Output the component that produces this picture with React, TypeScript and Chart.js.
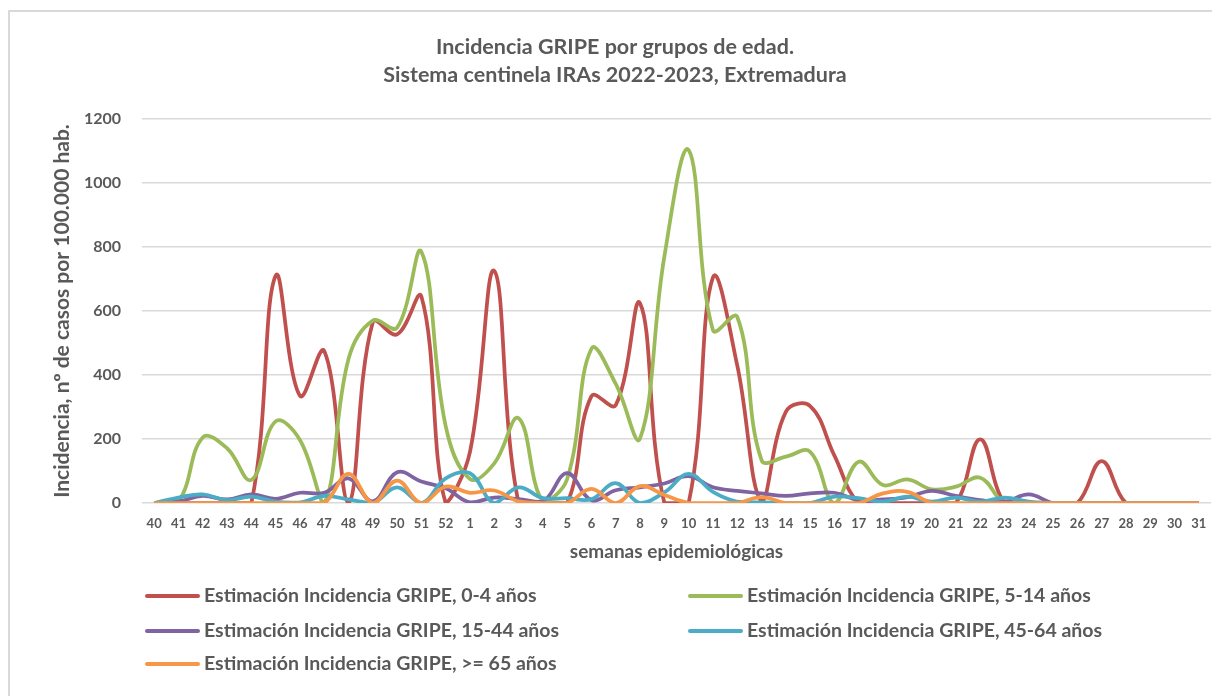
import React, { useEffect, useRef } from 'react';
import { Chart, registerables } from 'chart.js';

Chart.register(...registerables);

const weeks = [
  '40', '41', '42', '43', '44', '45', '46', '47', '48', '49', '50', '51', '52',
  '1', '2', '3', '4', '5', '6', '7', '8', '9', '10', '11', '12', '13', '14', '15', '16',
  '17', '18', '19', '20', '21', '22', '23', '24', '25', '26', '27', '28', '29', '30', '31',
];

const inc0_4 = [
  0, 0, 0, 0, 0, 710, 335, 475, 0, 565, 527, 645, 0,
  160, 725, 0, 0, 0, 334, 306, 624, 0, 0, 705, 430, 5, 285, 303, 148,
  0, 0, 0, 0, 0, 199, 0, 0, 0, 0, 131, 0, 0, 0, 0,
];
const inc5_14 = [
  0, 5, 205, 171, 72, 255, 197, 0, 450, 570, 548, 785, 240,
  75, 124, 265, 5, 75, 482, 372, 202, 770, 1103, 540, 582, 134, 145, 160, 0,
  129, 56, 74, 43, 51, 79, 0, 0, 0, 0, 0, 0, 0, 0, 0,
];
const inc15_44 = [
  0, 5, 22, 11, 27, 13, 32, 32, 77, 5, 96, 67, 46,
  2, 17, 12, 4, 93, 9, 40, 49, 61, 84, 49, 38, 30, 22, 30, 32,
  9, 11, 18, 38, 22, 9, 4, 27, 0, 0, 0, 0, 0, 0, 0,
];
const inc45_64 = [
  0, 17, 27, 9, 20, 4, 2, 22, 11, 0, 49, 0, 77,
  93, 0, 49, 15, 15, 12, 62, 0, 33, 91, 35, 4, 2, 0, 0, 20,
  15, 4, 20, 4, 17, 4, 17, 4, 0, 0, 0, 0, 0, 0, 0,
];
const inc65 = [
  0, 0, 0, 0, 0, 0, 0, 0, 91, 0, 70, 0, 51,
  32, 39, 5, 0, 0, 44, 0, 53, 25, 0, 0, 0, 18, 0, 0, 0,
  0, 30, 35, 0, 0, 0, 0, 0, 0, 0, 0, 0, 0, 0, 0,
];

const seriesLabels = [
  'Estimación Incidencia GRIPE, 0-4 años',
  'Estimación Incidencia GRIPE, 5-14 años',
  'Estimación Incidencia GRIPE, 15-44 años',
  'Estimación Incidencia GRIPE, 45-64 años',
  'Estimación Incidencia GRIPE, >= 65 años',
];
const seriesData = [inc0_4, inc5_14, inc15_44, inc45_64, inc65];
const seriesColors = ['#C0504D', '#9BBB59', '#8064A2', '#4BACC6', '#F79646'];

const titleLines = [
  'Incidencia GRIPE por grupos de edad.',
  'Sistema centinela IRAs 2022-2023, Extremadura',
];
const yTitle = 'Incidencia, nº de casos por 100.000 hab.';
const xTitle = 'semanas epidemiológicas';

const FONT = 'Lato, "Open Sans", sans-serif';
const TEXT = '#595959';

export default function App() {
  const ref = useRef<HTMLCanvasElement>(null);

  useEffect(() => {
    if (!ref.current) return;

    const titlePlugin = {
      id: 'customTitle',
      afterDraw(chart: any) {
        const ctx = chart.ctx;
        ctx.save();
        ctx.font = `bold 21.5px ${FONT}`;
        ctx.fillStyle = TEXT;
        ctx.textAlign = 'center';
        ctx.textBaseline = 'middle';
        ctx.fillText(titleLines[0], 605, 35);
        ctx.fillText(titleLines[1], 605, 63);
        ctx.restore();
      },
    };

    const legendPlugin = {
      id: 'customLegend',
      afterDraw(chart: any) {
        const ctx = chart.ctx;
        const rowsY = [584, 619, 652];
        const colsX = [137, 680];
        ctx.save();
        ctx.font = `bold 19.5px ${FONT}`;
        ctx.textAlign = 'left';
        ctx.textBaseline = 'middle';
        chart.data.datasets.forEach((ds: any, i: number) => {
          const x = colsX[i % 2];
          const y = rowsY[Math.floor(i / 2)];
          ctx.strokeStyle = ds.borderColor;
          ctx.lineWidth = 4;
          ctx.lineCap = 'round';
          ctx.beginPath();
          ctx.moveTo(x, y);
          ctx.lineTo(x + 51, y);
          ctx.stroke();
          ctx.fillStyle = TEXT;
          ctx.fillText(ds.label, x + 57, y);
        });
        ctx.restore();
      },
    };

    const chart = new Chart(ref.current, {
      type: 'line',
      data: {
        labels: weeks,
        datasets: seriesData.map((d, i) => ({
          label: seriesLabels[i],
          data: d,
          borderColor: seriesColors[i],
          backgroundColor: seriesColors[i],
          borderWidth: 3.75,
          pointRadius: 0,
          pointHoverRadius: 0,
          tension: 0.4,
          fill: false,
          order: seriesData.length - i,
        })),
      },
      options: {
        responsive: false,
        animation: false,
        layout: { padding: { top: 107, left: 0, right: 9, bottom: 135 } },
        plugins: {
          legend: { display: false },
          title: { display: false },
          tooltip: { enabled: false },
        },
        scales: {
          x: {
            offset: true,
            grid: { display: false, drawTicks: false },
            border: { display: false },
            ticks: {
              color: TEXT,
              font: { family: FONT, size: 13, weight: 'bold' },
              padding: 13,
              maxRotation: 0,
              autoSkip: false,
            },
            title: {
              display: true,
              text: xTitle,
              color: TEXT,
              font: { family: FONT, size: 19, weight: 'bold' },
              padding: { top: 0, bottom: 0 },
            },
            afterFit: (s: any) => {
              s.height = 60;
            },
          },
          y: {
            min: 0,
            max: 1200,
            ticks: {
              stepSize: 200,
              color: TEXT,
              font: { family: FONT, size: 16, weight: 'bold' },
              padding: 21,
              callback: (v: any) => String(v),
            },
            grid: { color: '#D9D9D9', lineWidth: 1.5, drawTicks: false },
            border: { display: false },
            title: {
              display: true,
              text: yTitle,
              color: TEXT,
              font: { family: FONT, size: 21, weight: 'bold' },
              padding: { top: 40, bottom: 0 },
            },
            afterFit: (s: any) => {
              s.width = 132;
            },
          },
        },
      },
      plugins: [titlePlugin, legendPlugin],
    } as any);

    return () => chart.destroy();
  }, []);

  return (
    <div
      style={{
        position: 'relative',
        top: 2,
        width: 1210,
        height: 686,
        borderTop: '2px solid #D9D9D9',
        borderLeft: '2px solid #D9D9D9',
        background: '#fff',
      }}
    >
      <canvas ref={ref} width={1210} height={686} style={{ display: 'block' }} />
    </div>
  );
}
